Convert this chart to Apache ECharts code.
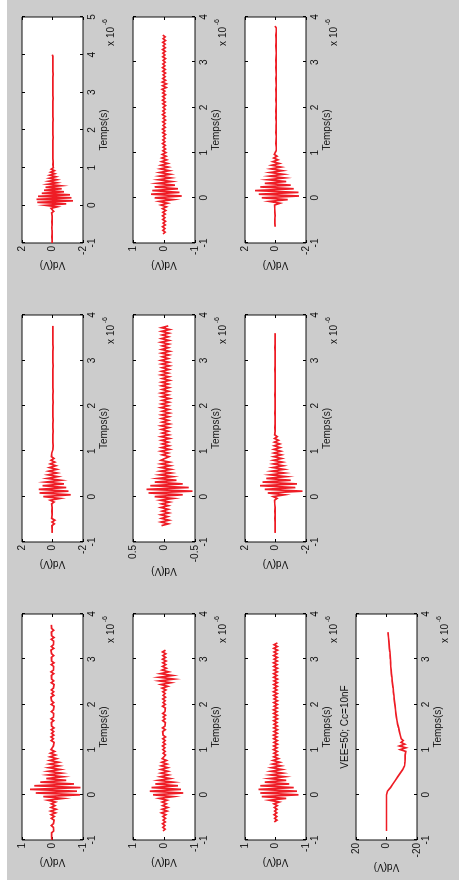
<!DOCTYPE html>
<html><head><meta charset="utf-8">
<script src="https://cdn.jsdelivr.net/npm/echarts@6/dist/echarts.min.js"></script>
<style>
html,body{margin:0;padding:0;background:#fff;width:459px;height:890px;overflow:hidden}
#bg{position:absolute;left:7px;top:0;width:452px;height:880px;background:#cccccc}
#rot{position:absolute;left:0;top:0;width:890px;height:459px;transform-origin:0 0;transform:translate(0px,890px) rotate(-90deg)}
#chart{width:890px;height:459px}
</style></head><body>
<div id="bg"></div>
<div id="rot"><div id="chart"></div></div>
<script>
// ---------------- DATA ----------------
const X_LABEL = 'Temps(s)';
const Y_LABEL = 'Vd(V)';
const TITLE_TEXT = 'VEE=50; Cc=10nF';
const TIME_EXPONENT = '-6';
const TIME_STEP = 0.04; // sampling step of every trace (x 10^-6 s)

// panels: name, y-limit, time-limit, first sample time
const PANEL_NAMES = ['C1', 'C2', 'C3', 'C4', 'B1', 'B2', 'B3', 'A1', 'A2', 'A3'];
const PANEL_VMAX  = [1, 1, 1, 20, 2, 0.5, 2, 2, 1, 2];
const PANEL_TMIN  = [-1, -1, -1, -1, -1, -1, -1, -1, -1, -1];
const PANEL_TMAX  = [4, 4, 4, 4, 4, 4, 4, 5, 4, 4];
const TRACE_START = [-1.0, -0.8, -0.6, -0.8, -0.8, -0.64, -0.8, -1.0, -0.8, -0.64];

const TRACE_A1 = [
 0.02,-0.03,0.03,-0.02,0.04,-0.03,0.02,-0.04,0.03,-0.02,0.05,-0.03,0.02,-0.03,0.04,-0.02,0.03,-0.04,0.02,-0.03,0.06,-0.08,0.05,
 0.1,-0.3,0.45,-0.9,1.0,-1.35,1.05,-1.25,0.95,-1.15,0.7,-0.75,0.55,-0.6,0.45,-0.55,0.3,-0.3,0.25,-0.28,0.2,-0.22,0.18,-0.15,0.12,-0.12,0.08,-0.06,
 0.03,-0.03,0.02,-0.04,0.03,-0.02,0.04,-0.03,0.02,-0.03,
 0.03,-0.02,0.02,-0.03,0.04,-0.03,0.02,-0.02,0.03,-0.04,
 0.02,-0.03,0.03,-0.02,0.02,-0.03,0.04,-0.02,0.03,-0.03,
 0.02,-0.04,0.03,-0.02,0.02,-0.03,0.03,-0.02,0.04,-0.03,
 0.02,-0.03,0.03,-0.02,0.02,-0.04,0.03,-0.03,0.02,-0.02,
 0.03,-0.03,0.04,-0.02,0.02,-0.03,0.03,-0.02,0.02,-0.03,
 0.03,-0.04,0.02,-0.02,0.03,-0.03,0.02,-0.03,0.04,-0.02,
 0.02,-0.03,0.03,-0.02,0.02
];
const TRACE_B1 = [
 0.03,-0.04,0.02,-0.05,0.04,-0.12,0.03,-0.15,0.05,-0.08,0.03,-0.1,0.04,-0.06,0.03,-0.05,0.06,-0.1,
 0.15,-0.5,0.6,-1.2,0.85,-1.05,0.9,-0.9,0.65,-0.75,0.45,-0.55,0.35,-0.35,0.3,-0.3,0.25,-0.28,0.2,-0.22,0.15,-0.15,0.1,-0.1,0.07,-0.06,0.05,
 0.04,-0.03,0.03,-0.04,0.02,-0.03,0.03,-0.02,0.04,-0.03,
 0.02,-0.04,0.03,-0.02,0.03,-0.03,0.02,-0.04,0.03,-0.02,
 0.04,-0.03,0.02,-0.03,0.03,-0.02,0.02,-0.04,0.03,-0.03,
 0.02,-0.02,0.03,-0.04,0.04,-0.03,0.02,-0.03,0.03,-0.02,
 0.02,-0.03,0.04,-0.02,0.03,-0.03,0.02,-0.04,0.03,-0.02,
 0.03,-0.03,0.02,-0.02,0.04,-0.03,0.03,-0.04,0.02,-0.03,
 0.03,-0.02,0.02,-0.03,0.04,-0.03,0.02,-0.02,0.03,-0.03
];
const TRACE_C1 = [
 0.02,-0.03,0.03,-0.02,0.03,-0.04,0.02,-0.03,0.04,-0.03,0.02,-0.05,0.04,-0.06,0.05,-0.1,0.06,-0.12,0.05,-0.08,0.04,-0.1,
 0.15,-0.35,0.3,-0.9,0.55,-0.8,0.74,-0.92,0.6,-0.7,0.4,-0.45,
 0.2,-0.35,0.15,-0.3,0.14,-0.26,0.12,-0.22,0.1,-0.2,0.09,-0.14,0.08,-0.1,0.07,-0.07,0.05,
 0.04,-0.03,0.03,-0.05,0.04,-0.03,0.05,-0.04,0.03,-0.04,
 0.04,-0.05,0.03,-0.03,0.04,-0.04,0.05,-0.03,0.03,-0.04,
 0.04,-0.03,0.03,-0.05,0.04,-0.04,0.03,-0.03,0.05,-0.04,
 0.03,-0.04,0.04,-0.03,0.03,-0.05,0.04,-0.04,0.03,-0.03,
 0.04,-0.04,0.05,-0.03,0.03,-0.04,0.04,-0.05,0.03,-0.03,
 0.04,-0.04,0.03,-0.03,0.05,-0.04,0.04,-0.03,0.03,-0.04,
 0.04,-0.05,0.03,-0.03,0.04,-0.04,0.03,-0.03,0.04
];
const TRACE_A2 = [
 0.03,-0.04,0.04,-0.03,0.05,-0.04,0.03,-0.05,0.04,-0.03,0.05,-0.04,0.04,-0.06,0.05,-0.08,0.1,-0.12,
 0.15,-0.3,0.3,-0.57,0.42,-0.5,0.38,-0.45,0.3,-0.35,0.22,
 -0.25,0.18,-0.22,0.15,-0.2,0.14,-0.17,0.12,-0.14,0.1,-0.12,0.08,-0.09,0.07,-0.07,0.06,-0.06,
 0.04,-0.05,0.03,-0.04,0.05,-0.03,0.04,-0.04,0.03,-0.05,
 0.04,-0.03,0.05,-0.04,0.03,-0.04,0.04,-0.05,0.03,-0.04,
 0.05,-0.03,0.04,-0.04,0.03,-0.05,0.04,-0.04,0.05,-0.03,
 0.04,-0.05,0.04,-0.03,0.06,-0.07,0.05,-0.08,0.06,-0.05,
 0.04,-0.04,0.03,-0.05,0.04,-0.04,0.05,-0.03,0.04,-0.04,
 0.03,-0.05,0.04,-0.03,0.04,-0.04,0.05,-0.04,0.03,-0.04,
 0.04,-0.05,0.03,-0.04,0.04
];
const TRACE_B2 = [
 0.04,-0.07,0.05,-0.08,0.04,-0.06,0.05,-0.08,0.03,-0.07,0.05,-0.07,0.04,-0.09,0.06,
 -0.15,0.15,-0.3,0.25,-0.46,0.28,-0.4,0.22,-0.3,0.15,-0.2,0.1,
 -0.14,0.07,-0.12,0.06,-0.11,0.05,-0.1,0.05,-0.09,0.05,
 0.04,-0.08,0.03,-0.07,0.05,-0.09,0.04,-0.08,0.03,-0.07,
 0.04,-0.09,0.05,-0.08,0.03,-0.07,0.04,-0.08,0.05,-0.09,
 0.03,-0.07,0.04,-0.08,0.04,-0.09,0.03,-0.08,0.05,-0.07,
 0.04,-0.08,0.03,-0.09,0.04,-0.07,0.05,-0.08,0.03,-0.08,
 0.04,-0.07,0.04,-0.09,0.03,-0.08,0.05,-0.07,0.04,-0.08,
 0.03,-0.09,0.04,-0.08,0.05,-0.07,0.03,-0.08,0.04,-0.09,
 0.04,-0.07,0.03,-0.08,0.05,-0.08,0.04,-0.07,0.03,-0.08,
 0.04,-0.09,0.04,-0.07
];
const TRACE_C2 = [
 0.03,-0.04,0.04,-0.03,0.05,-0.04,0.03,-0.05,0.04,-0.06,0.08,-0.1,0.06,-0.12,0.05,-0.08,0.06,-0.1,
 0.15,-0.3,0.35,-0.62,0.46,-0.55,0.4,-0.45,0.28,-0.3,0.18,
 -0.2,0.12,-0.15,0.1,-0.13,0.1,-0.12,0.09,-0.1,0.07,-0.08,0.06,
 0.04,-0.05,0.03,-0.04,0.04,-0.03,0.05,-0.04,0.03,-0.04,
 0.04,-0.05,0.03,-0.03,0.04,-0.04,0.05,-0.03,0.03,-0.04,
 0.04,-0.04,0.03,-0.05,0.04,-0.03,0.03,-0.04,0.05,-0.04,
 0.03,-0.04,0.04,-0.05,0.03,-0.04,0.04,-0.06,
 0.06,-0.12,0.1,-0.22,0.15,-0.32,0.16,-0.28,0.12,-0.15,0.06,
 -0.08,0.05,-0.06,0.04,-0.07,0.05,-0.05,0.04,-0.06,0.05,-0.05
];
const TRACE_A3 = [
 0.03,-0.04,0.04,-0.03,0.05,-0.04,0.03,-0.05,0.04,-0.06,0.05,-0.08,0.06,
 -0.3,0.4,-0.8,0.9,-1.54,1.1,-1.5,1.34,-1.2,1.0,-1.0,0.7,
 -0.7,0.5,-0.6,0.4,-0.52,0.36,-0.45,0.3,-0.35,0.25,-0.25,0.18,-0.16,0.12,-0.1,0.08,
 0.05,-0.04,0.03,-0.05,0.04,-0.03,0.04,-0.04,0.03,-0.05,
 0.04,-0.03,0.05,-0.04,0.03,-0.04,0.04,-0.05,0.03,-0.03,
 0.04,-0.04,0.05,-0.03,0.03,-0.04,0.04,-0.05,0.04,-0.03,
 0.03,-0.04,0.05,-0.04,0.04,-0.03,0.03,-0.05,0.04,-0.04,
 0.03,-0.03,0.04,-0.05,0.04,-0.04,0.03,-0.03,0.05,-0.04,
 0.04,-0.03,0.03,-0.04,0.04,-0.05,0.03,-0.04,0.04,-0.03,
 0.05,-0.04,0.03,-0.04,0.04,-0.03,0.03,-0.05,0.04,-0.04,
 0.03
];
const TRACE_B3 = [
 0.03,-0.03,0.02,-0.04,0.03,-0.02,0.03,-0.03,0.04,-0.03,0.02,-0.05,0.04,-0.03,0.03,-0.06,0.05,-0.04,0.06,-0.1,0.15,
 -0.6,0.5,-1.76,0.7,-1.3,1.02,-1.4,0.85,-1.0,0.6,-0.7,
 0.35,-0.6,0.25,-0.55,0.18,-0.5,0.15,-0.45,0.14,-0.4,0.12,-0.38,0.1,-0.34,0.1,-0.3,0.08,-0.28,0.07,-0.2,0.06,-0.12,
 0.05,-0.04,0.03,-0.03,0.04,-0.02,0.03,-0.04,0.02,-0.03,
 0.03,-0.02,0.04,-0.03,0.02,-0.03,0.03,-0.04,0.02,-0.02,
 0.03,-0.03,0.04,-0.02,0.02,-0.03,0.03,-0.03,0.02,-0.04,
 0.03,-0.02,0.03,-0.03,0.02,-0.03,0.04,-0.02,0.03,-0.03,
 0.02,-0.04,0.03,-0.02,0.02,-0.03,0.03,-0.03,0.04,-0.02,
 0.02,-0.03,0.03,-0.02,0.03,-0.03,0.02
];
const TRACE_C3 = [
 0.04,-0.05,0.03,-0.04,0.05,-0.04,0.03,-0.05,0.04,-0.06,0.05,
 -0.12,0.2,-0.35,0.45,-0.75,0.5,-0.7,0.56,-0.6,0.5,-0.45,0.35,-0.35,
 0.2,-0.3,0.17,-0.24,0.15,-0.21,0.13,-0.18,0.1,-0.14,0.08,-0.1,
 0.06,-0.07,0.05,-0.06,0.07,-0.05,0.06,-0.07,0.05,-0.06,
 0.06,-0.05,0.07,-0.06,0.05,-0.07,0.06,-0.06,0.05,-0.05,
 0.06,-0.07,0.05,-0.06,0.06,-0.05,0.07,-0.06,0.05,-0.06,
 0.06,-0.07,0.05,-0.05,0.06,-0.06,0.07,-0.05,0.05,-0.06,
 0.06,-0.06,0.05,-0.07,0.06,-0.05,0.06,-0.06,0.05,-0.07,
 0.06,-0.05,0.07,-0.06,0.05,-0.06,0.06,-0.05,0.05,-0.07,
 0.06,-0.06,0.05,-0.06
];
const TRACE_C4 = [
 0,0,0,0,0,0,0,0,0,0,0,0,0,0,0,0,0,0,0,0,0,0,
 -0.6,-1.6,-2.6,-3.4,-4.2,-5.0,-5.8,-6.6,-7.4,-8.2,-9.0,-9.8,-10.6,-11.3,-11.8,-12.0,
 -12.1,-12.2,-12.2,-12.3,-12.2,
 -11.0,-12.6,-9.0,-12.7,-8.5,-12.0,-9.5,-11.0,
 -9.6,-9.3,-9.0,-8.7,-8.4,-8.2,-7.9,-7.6,-7.3,-7.1,
 -6.9,-6.7,-6.5,-6.3,-6.2,-6.0,-5.9,-5.7,-5.6,-5.5,
 -5.3,-5.2,-5.0,-4.9,-4.8,-4.6,-4.5,-4.4,-4.3,-4.1,
 -4.0,-3.9,-3.7,-3.6,-3.5,-3.3,-3.2,-3.1,-3.0,-2.9,
 -2.8,-2.8,-2.7,-2.6,-2.6,-2.5,-2.4,-2.3,-2.2,-2.1,
 -1.9,-1.8,-1.7,-1.6,-1.5,-1.4,-1.3,-1.2,-1.1,-1.0
];
const TRACES = {A1: TRACE_A1, A2: TRACE_A2, A3: TRACE_A3, B1: TRACE_B1, B2: TRACE_B2, B3: TRACE_B3,
                C1: TRACE_C1, C2: TRACE_C2, C3: TRACE_C3, C4: TRACE_C4};

// ---------------- LAYOUT (figure drawn in landscape, page rotates it) ----------------
const COL_LEFT = {C: 50, B: 348, A: 647};
const COL_WIDTH = {C: 226, B: 227, A: 226};
const ROW_TOP = [22, 133, 245, 356];
const ROW_HEIGHT = [61, 62, 61, 61];
const FONT = '"Liberation Sans", Arial, Helvetica, sans-serif';
const TXT = '#111';
const RED = '#ee1c25';

const grids = [], xAxes = [], yAxes = [], series = [], graphics = [];
PANEL_NAMES.forEach((name, k) => {
  const col = name[0], row = parseInt(name[1], 10) - 1;
  const left = COL_LEFT[col], width = COL_WIDTH[col], top = ROW_TOP[row], height = ROW_HEIGHT[row];
  grids.push({left, top, width, height, show: true, backgroundColor: '#fff',
              borderColor: '#111', borderWidth: 1, containLabel: false});
  const vmax = PANEL_VMAX[k], tmin = PANEL_TMIN[k], tmax = PANEL_TMAX[k];
  const tick = {show: true, inside: true, length: 3, lineStyle: {color: '#000', width: 1}};
  const noLine = {show: false, onZero: false};
  xAxes.push({type: 'value', gridIndex: k, position: 'bottom', min: tmin, max: tmax, interval: 1,
    axisLine: noLine, axisTick: tick, splitLine: {show: false},
    axisLabel: {margin: 4, fontSize: 10, color: TXT, fontFamily: FONT, showMinLabel: true, showMaxLabel: true},
    name: X_LABEL, nameLocation: 'middle', nameGap: 16,
    nameTextStyle: {fontSize: 10, color: TXT, fontFamily: FONT}});
  xAxes.push({type: 'value', gridIndex: k, position: 'top', min: tmin, max: tmax, interval: 1,
    axisLine: noLine, axisTick: tick, splitLine: {show: false}, axisLabel: {show: false}});
  yAxes.push({type: 'value', gridIndex: k, position: 'left', min: -vmax, max: vmax, interval: vmax,
    axisLine: noLine, axisTick: tick, splitLine: {show: false},
    axisLabel: {margin: 3, fontSize: 10, color: TXT, fontFamily: FONT, showMinLabel: true, showMaxLabel: true},
    name: Y_LABEL, nameLocation: 'middle', nameGap: 17, nameRotate: 90,
    nameTextStyle: {fontSize: 10, color: TXT, fontFamily: FONT}});
  yAxes.push({type: 'value', gridIndex: k, position: 'right', min: -vmax, max: vmax, interval: vmax,
    axisLine: noLine, axisTick: tick, splitLine: {show: false}, axisLabel: {show: false}});
  const vals = TRACES[name];
  const t0 = TRACE_START[k];
  const data = vals.map((v, i) => [+(t0 + i * TIME_STEP).toFixed(3), v]);
  series.push({type: 'line', name, xAxisIndex: 2 * k, yAxisIndex: 2 * k, data,
    showSymbol: false, symbol: 'none', clip: true, silent: true, animation: false,
    lineStyle: {color: RED, width: 1.7, join: 'miter'}, itemStyle: {color: RED}});
  // exponent label of the time axis
  graphics.push({type: 'text', silent: true, style: {text: 'x 10', x: left + width - 10, y: top + height + 28,
    textAlign: 'right', textVerticalAlign: 'middle', align: 'right', verticalAlign: 'middle',
    font: '10px ' + FONT, fill: TXT}});
  graphics.push({type: 'text', silent: true, style: {text: TIME_EXPONENT, x: left + width - 2, y: top + height + 22,
    textAlign: 'right', textVerticalAlign: 'middle', align: 'right', verticalAlign: 'middle',
    font: '7px ' + FONT, fill: TXT}});
  if (name === 'C4') {
    graphics.push({type: 'text', silent: true, style: {text: TITLE_TEXT, x: left + width / 2, y: top - 11,
      textAlign: 'center', textVerticalAlign: 'middle', align: 'center', verticalAlign: 'middle',
      font: '10px ' + FONT, fill: TXT}});
  }
});

const chart = echarts.init(document.getElementById('chart'), null, {renderer: 'canvas', width: 890, height: 459});
chart.setOption({
  backgroundColor: 'transparent',
  animation: false,
  grid: grids, xAxis: xAxes, yAxis: yAxes, series,
  graphic: {elements: graphics}
});
</script>
</body></html>
